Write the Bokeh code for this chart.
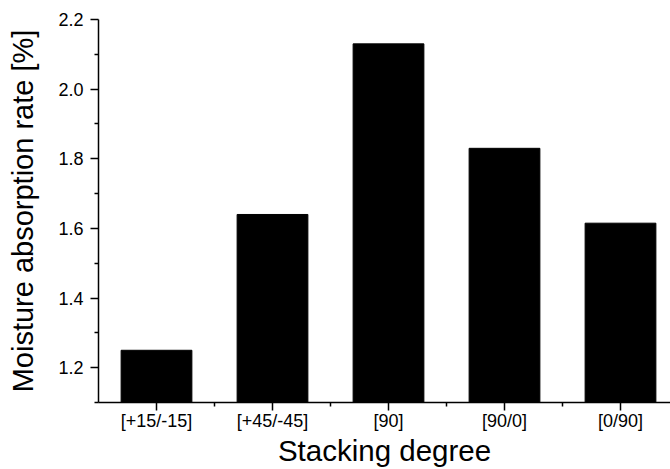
from bokeh.plotting import figure
from bokeh.models import Range1d, FixedTicker
from bokeh.embed import file_html
from bokeh.resources import INLINE

categories = ["[+15/-15]", "[+45/-45]", "[90]", "[90/0]", "[0/90]"]
absorption = [1.25, 1.64, 2.13, 1.83, 1.615]
y_ticks = [1.2, 1.4, 1.6, 1.8, 2.0, 2.2]
y_minor = [1.1, 1.3, 1.5, 1.7, 1.9, 2.1]

positions = list(range(1, len(categories) + 1))
x_minor = [i + 0.5 for i in positions[:-1]]

FONT = "Liberation Sans"

p = figure(width=670, height=469, output_backend="svg", toolbar_location=None,
           x_range=Range1d(0.5, 5.431), y_range=Range1d(1.1, 2.2),
           min_border_left=98, min_border_right=0, min_border_top=19,
           min_border_bottom=65)
p.outline_line_color = None
p.xgrid.visible = False
p.ygrid.visible = False

p.vbar(x=positions, top=absorption, bottom=0, width=0.61,
       fill_color="black", line_color="black")

xa = p.xaxis[0]
xa.ticker = FixedTicker(ticks=positions, minor_ticks=x_minor)
xa.major_label_overrides = {i: c for i, c in zip(positions, categories)}
xa.axis_label = "Stacking degree"

ya = p.yaxis[0]
ya.ticker = FixedTicker(ticks=y_ticks, minor_ticks=y_minor)
ya.major_label_overrides = {v: f"{v:.1f}" for v in y_ticks}
ya.axis_label = "Moisture absorption rate [%]"

for ax in (xa, ya):
    ax.axis_line_color = "black"
    ax.axis_line_width = 1.5
    ax.major_tick_line_color = "black"
    ax.major_tick_line_width = 1.5
    ax.minor_tick_line_color = "black"
    ax.minor_tick_line_width = 1.5
    ax.major_tick_out = 8
    ax.major_tick_in = 0
    ax.minor_tick_out = 4
    ax.minor_tick_in = 0
    ax.major_label_text_font = FONT
    ax.major_label_text_font_size = "18px"
    ax.major_label_text_color = "black"
    ax.axis_label_text_font = FONT
    ax.axis_label_text_font_style = "normal"
    ax.axis_label_text_color = "black"

xa.major_label_standoff = 0
xa.axis_label_text_font_size = "29.5px"
xa.axis_label_standoff = 0
ya.major_label_standoff = 7
ya.axis_label_text_font_size = "29px"
ya.axis_label_standoff = 16

open("out.html", "w").write(file_html(p, INLINE))
